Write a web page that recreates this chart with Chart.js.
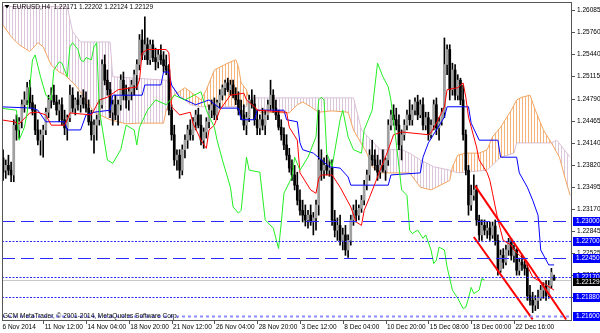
<!DOCTYPE html>
<html>
<head>
<meta charset="utf-8">
<script src="https://cdn.jsdelivr.net/npm/chart.js@4.4.0/dist/chart.umd.min.js"></script>
<style>
  html, body { margin: 0; padding: 0; background: #fff; }
  canvas { display: block; }
</style>
</head>
<body>
<canvas id="chart" width="600" height="333"></canvas>
<script>
// EURUSD H4 candles, bar 0 = 6 Nov 2014 20:00
const opens = [1.2404,1.2392,1.2374,1.2381,1.2374,1.2367,1.2440,1.2433,1.2445,1.2470,
1.2477,1.2495,1.2473,1.2462,1.2433,1.2418,1.2426,1.2433,1.2459,1.2477,
1.2484,1.2474,1.2462,1.2470,1.2448,1.2436,1.2451,1.2484,1.2465,1.2477,
1.2470,1.2480,1.2471,1.2465,1.2445,1.2426,1.2440,1.2448,1.2470,1.2529,
1.2506,1.2492,1.2459,1.2470,1.2455,1.2470,1.2506,1.2484,1.2477,1.2489,
1.2499,1.2514,1.2529,1.2565,1.2543,1.2558,1.2536,1.2558,1.2539,1.2533,
1.2543,1.2536,1.2527,1.2521,1.2462,1.2426,1.2389,1.2396,1.2374,1.2404,
1.2418,1.2433,1.2426,1.2445,1.2455,1.2440,1.2418,1.2430,1.2445,1.2462,
1.2470,1.2455,1.2473,1.2484,1.2495,1.2502,1.2492,1.2499,1.2484,1.2477,
1.2462,1.2455,1.2440,1.2451,1.2477,1.2471,1.2448,1.2436,1.2448,1.2440,
1.2455,1.2470,1.2484,1.2465,1.2455,1.2437,1.2426,1.2411,1.2396,1.2377,
1.2367,1.2352,1.2330,1.2315,1.2308,1.2301,1.2308,1.2298,1.2304,1.2323,
1.2389,1.2374,1.2381,1.2374,1.2377,1.2301,1.2286,1.2293,1.2271,1.2279,
1.2257,1.2271,1.2301,1.2315,1.2308,1.2318,1.2330,1.2352,1.2367,1.2396,
1.2389,1.2381,1.2371,1.2381,1.2374,1.2389,1.2440,1.2455,1.2448,1.2440,
1.2411,1.2426,1.2440,1.2455,1.2448,1.2462,1.2474,1.2455,1.2470,1.2440,
1.2451,1.2426,1.2440,1.2470,1.2436,1.2445,1.2459,1.2529,1.2551,1.2492,
1.2521,1.2484,1.2506,1.2477,1.2426,1.2374,1.2323,1.2337,1.2345,1.2301,
1.2279,1.2293,1.2286,1.2289,1.2279,1.2292,1.2271,1.2227,1.2249,1.2239,
1.2257,1.2268,1.2249,1.2257,1.2227,1.2239,1.2235,1.2230,1.2190,1.2183,
1.2176,1.2183,1.2186,1.2198,1.2204,1.2190,1.2205,1.22171];
const highs = [1.2411,1.2404,1.2389,1.2396,1.2386,1.2448,1.2455,1.2451,1.2477,1.2489,
1.2503,1.2506,1.2484,1.2470,1.2448,1.2433,1.2440,1.2465,1.2484,1.2495,
1.2499,1.2484,1.2477,1.2480,1.2462,1.2455,1.2499,1.2495,1.2480,1.2489,
1.2484,1.2492,1.2489,1.2477,1.2462,1.2448,1.2455,1.2477,1.2536,1.2543,
1.2521,1.2503,1.2477,1.2484,1.2477,1.2514,1.2518,1.2499,1.2495,1.2506,
1.2521,1.2536,1.2573,1.2580,1.2599,1.2568,1.2565,1.2565,1.2553,1.2551,
1.2558,1.2548,1.2543,1.2529,1.2470,1.2440,1.2404,1.2404,1.2411,1.2426,
1.2440,1.2448,1.2451,1.2462,1.2465,1.2455,1.2436,1.2451,1.2470,1.2477,
1.2480,1.2477,1.2492,1.2499,1.2506,1.2509,1.2506,1.2506,1.2495,1.2489,
1.2477,1.2470,1.2459,1.2484,1.2492,1.2484,1.2462,1.2455,1.2465,1.2462,
1.2477,1.2506,1.2492,1.2477,1.2462,1.2448,1.2436,1.2426,1.2406,1.2389,
1.2381,1.2371,1.2345,1.2330,1.2323,1.2315,1.2323,1.2312,1.2330,1.2462,
1.2404,1.2392,1.2396,1.2389,1.2389,1.2315,1.2304,1.2308,1.2289,1.2293,
1.2279,1.2308,1.2323,1.2330,1.2323,1.2337,1.2359,1.2374,1.2404,1.2418,
1.2404,1.2396,1.2389,1.2404,1.2392,1.2448,1.2462,1.2470,1.2465,1.2455,
1.2433,1.2448,1.2462,1.2477,1.2470,1.2480,1.2484,1.2477,1.2480,1.2459,
1.2459,1.2448,1.2477,1.2480,1.2451,1.2465,1.2568,1.2558,1.2558,1.2531,
1.2529,1.2514,1.2509,1.2499,1.2433,1.2381,1.2352,1.2367,1.2352,1.2308,
1.2301,1.2301,1.2298,1.2298,1.2298,1.2301,1.2279,1.2257,1.2259,1.2264,
1.2274,1.2274,1.2264,1.2259,1.2245,1.2249,1.2245,1.2235,1.2205,1.2195,
1.2190,1.2198,1.2205,1.2209,1.2212,1.2212,1.2230,1.22202];
const lows = [1.2381,1.2359,1.2362,1.2367,1.2357,1.2357,1.2418,1.2421,1.2436,1.2459,
1.2470,1.2465,1.2455,1.2426,1.2411,1.2396,1.2393,1.2426,1.2451,1.2465,
1.2470,1.2455,1.2445,1.2440,1.2426,1.2418,1.2445,1.2459,1.2455,1.2462,
1.2459,1.2465,1.2459,1.2440,1.2418,1.2399,1.2418,1.2440,1.2465,1.2499,
1.2484,1.2451,1.2440,1.2448,1.2440,1.2462,1.2477,1.2465,1.2462,1.2477,
1.2484,1.2492,1.2521,1.2536,1.2536,1.2529,1.2529,1.2533,1.2521,1.2524,
1.2529,1.2518,1.2514,1.2455,1.2418,1.2381,1.2374,1.2362,1.2367,1.2392,
1.2406,1.2418,1.2418,1.2433,1.2436,1.2411,1.2406,1.2421,1.2436,1.2451,
1.2448,1.2448,1.2465,1.2477,1.2484,1.2489,1.2484,1.2480,1.2470,1.2455,
1.2448,1.2433,1.2426,1.2445,1.2465,1.2440,1.2426,1.2426,1.2433,1.2426,
1.2448,1.2462,1.2459,1.2448,1.2433,1.2418,1.2404,1.2389,1.2371,1.2359,
1.2345,1.2323,1.2308,1.2298,1.2292,1.2289,1.2293,1.2279,1.2286,1.2308,
1.2359,1.2362,1.2367,1.2365,1.2293,1.2276,1.2271,1.2264,1.2257,1.2249,
1.2246,1.2264,1.2293,1.2298,1.2301,1.2312,1.2323,1.2345,1.2359,1.2381,
1.2374,1.2359,1.2362,1.2371,1.2359,1.2381,1.2433,1.2440,1.2433,1.2404,
1.2389,1.2418,1.2433,1.2440,1.2440,1.2455,1.2448,1.2451,1.2433,1.2433,
1.2418,1.2421,1.2433,1.2426,1.2418,1.2440,1.2451,1.2514,1.2477,1.2484,
1.2477,1.2477,1.2470,1.2418,1.2367,1.2308,1.2315,1.2330,1.2293,1.2271,
1.2271,1.2279,1.2274,1.2271,1.2274,1.2264,1.2220,1.2224,1.2230,1.2235,
1.2249,1.2242,1.2239,1.2220,1.2220,1.2227,1.2220,1.2183,1.2176,1.2165,
1.2168,1.2171,1.2183,1.2186,1.2183,1.2186,1.2201,1.22124];
const closes = [1.2389,1.2371,1.2381,1.2374,1.2367,1.2440,1.2433,1.2445,1.2470,1.2477,
1.2495,1.2473,1.2462,1.2433,1.2418,1.2426,1.2433,1.2459,1.2477,1.2484,
1.2474,1.2462,1.2470,1.2448,1.2436,1.2451,1.2484,1.2465,1.2477,1.2470,
1.2480,1.2471,1.2465,1.2445,1.2426,1.2440,1.2448,1.2470,1.2529,1.2506,
1.2492,1.2459,1.2470,1.2455,1.2470,1.2506,1.2484,1.2477,1.2489,1.2499,
1.2514,1.2529,1.2565,1.2543,1.2558,1.2536,1.2558,1.2539,1.2533,1.2543,
1.2536,1.2527,1.2521,1.2462,1.2426,1.2389,1.2396,1.2374,1.2404,1.2418,
1.2433,1.2426,1.2445,1.2455,1.2440,1.2418,1.2430,1.2445,1.2462,1.2470,
1.2455,1.2473,1.2484,1.2495,1.2502,1.2492,1.2499,1.2484,1.2477,1.2462,
1.2455,1.2440,1.2451,1.2477,1.2471,1.2448,1.2436,1.2448,1.2440,1.2455,
1.2470,1.2484,1.2465,1.2455,1.2437,1.2426,1.2411,1.2396,1.2377,1.2367,
1.2352,1.2330,1.2315,1.2308,1.2301,1.2308,1.2298,1.2304,1.2323,1.2389,
1.2374,1.2381,1.2374,1.2377,1.2301,1.2286,1.2293,1.2271,1.2279,1.2257,
1.2271,1.2301,1.2315,1.2308,1.2318,1.2330,1.2352,1.2367,1.2396,1.2389,
1.2381,1.2371,1.2381,1.2374,1.2389,1.2440,1.2455,1.2448,1.2440,1.2411,
1.2426,1.2440,1.2455,1.2448,1.2462,1.2474,1.2455,1.2470,1.2440,1.2451,
1.2426,1.2440,1.2470,1.2436,1.2445,1.2459,1.2529,1.2551,1.2492,1.2521,
1.2484,1.2506,1.2477,1.2426,1.2374,1.2323,1.2337,1.2345,1.2301,1.2279,
1.2293,1.2286,1.2289,1.2279,1.2292,1.2271,1.2227,1.2249,1.2239,1.2257,
1.2268,1.2249,1.2257,1.2227,1.2239,1.2235,1.2230,1.2190,1.2183,1.2176,
1.2183,1.2186,1.2198,1.2204,1.2190,1.2205,1.2224,1.22129];

// Ichimoku lines, [bar, price] vertices
const tenkan = [[0,1.2448],[5,1.2445],[7,1.2442],[11,1.2458],[14,1.2459],[17,1.2455],[19,1.2440],[24,1.2440],[25,1.2448],[26,1.2458],
[34,1.2455],[35,1.2462],[37,1.2477],[40,1.2481],[44,1.2492],[51,1.2496],[52,1.2506],[53,1.2546],[55,1.2551],[62,1.2551],
[63,1.2546],[64,1.2467],[67,1.2455],[71,1.2459],[72,1.2443],[75,1.2418],[77,1.2406],[78,1.2433],[80,1.2440],[82,1.2462],
[86,1.2484],[91,1.2487],[92,1.2477],[95,1.2467],[96,1.2462],[107,1.2459],[108,1.2437],[111,1.2418],[112,1.2370],[116,1.2345],
[118,1.2340],[119,1.2362],[120,1.2367],[124,1.2367],[127,1.2349],[131,1.2320],[133,1.2298],[135,1.2293],[136,1.2315],[138,1.2334],
[141,1.2364],[145,1.2404],[147,1.2426],[150,1.2430],[160,1.2426],[161,1.2429],[163,1.2443],[166,1.2467],[167,1.2492],[171,1.2495],
[173,1.2502],[174,1.2481],[175,1.2452],[178,1.2408],[179,1.2389],[182,1.2370],[183,1.2359],[184,1.2340],[186,1.2301],[188,1.2271],
[191,1.2264],[192,1.2257],[196,1.2242],[199,1.2217],[203,1.2208],[207,1.2198]];
const kijun = [[0,1.2467],[12,1.2465],[14,1.2462],[17,1.2445],[24,1.2445],[25,1.2433],[30,1.2433],[32,1.2455],[35,1.2459],[41,1.2462],
[42,1.2484],[53,1.2484],[54,1.2499],[60,1.2499],[61,1.2518],[63,1.2518],[64,1.2499],[67,1.2481],[73,1.2470],[78,1.2477],
[82,1.2465],[89,1.2465],[90,1.2448],[95,1.2448],[96,1.2462],[106,1.2462],[107,1.2448],[111,1.2445],[112,1.2414],[113,1.2404],
[117,1.2399],[123,1.2379],[127,1.2377],[130,1.2364],[131,1.2352],[145,1.2352],[146,1.2367],[157,1.2370],[158,1.2393],[160,1.2414],
[166,1.2452],[167,1.2467],[175,1.2467],[176,1.2443],[179,1.2418],[186,1.2418],[187,1.2393],[193,1.2393],[194,1.2370],[197,1.2349],
[199,1.2330],[201,1.2308],[202,1.2257],[205,1.2235],[207,1.2235]];
const chikou = [[0,1.2465],[6,1.2462],[7,1.2418],[9,1.2437],[10,1.2458],[12,1.2536],[13,1.2543],[15,1.2511],[17,1.2484],[19,1.2477],
[20,1.2521],[22,1.2533],[23,1.2531],[25,1.2511],[26,1.2555],[27,1.2561],[29,1.2551],[30,1.2536],[31,1.2533],[32,1.2539],
[34,1.2536],[35,1.2555],[36,1.2561],[37,1.2462],[40,1.2389],[42,1.2384],[45,1.2404],[47,1.2440],[50,1.2433],[51,1.2411],
[52,1.2437],[55,1.2462],[58,1.2477],[62,1.2470],[65,1.2484],[69,1.2477],[75,1.2489],[77,1.2462],[80,1.2437],[81,1.2418],
[83,1.2389],[86,1.2349],[87,1.2320],[89,1.2311],[90,1.2315],[92,1.2393],[93,1.2374],[97,1.2371],[99,1.2301],[102,1.2289],
[104,1.2259],[105,1.2296],[106,1.2340],[109,1.2364],[110,1.2393],[112,1.2374],[115,1.2393],[118,1.2423],[119,1.2477],[120,1.2481],
[121,1.2477],[122,1.2399],[124,1.2379],[127,1.2448],[128,1.2462],[130,1.2423],[132,1.2404],[135,1.2399],[136,1.2433],[139,1.2462],
[141,1.2531],[143,1.2511],[145,1.2496],[146,1.2477],[148,1.2414],[150,1.2345],[152,1.2337],[153,1.2286],[154,1.2281],[156,1.2286],
[158,1.2274],[159,1.2279],[161,1.2257],[162,1.2237],[163,1.2242],[164,1.2261],[166,1.2257],[167,1.2232],[169,1.2198],[171,1.2186],
[173,1.2171],[174,1.2173],[175,1.2186],[176,1.2202],[177,1.2193],[179,1.2198],[180,1.2215],[181,1.2213]];
const spanA = [[0,1.2592],[4,1.2570],[7,1.2558],[11,1.2548],[14,1.2561],[16,1.2555],[19,1.2528],[22,1.2518],[24,1.2514],[28,1.2499],
[32,1.2477],[35,1.2459],[41,1.2448],[47,1.2442],[52,1.2443],[61,1.2443],[62,1.2462],[65,1.2484],[69,1.2495],[75,1.2477],
[77,1.2492],[80,1.2521],[85,1.2531],[88,1.2536],[89,1.2526],[90,1.2502],[92,1.2492],[93,1.2477],[97,1.2459],[108,1.2458],
[111,1.2470],[113,1.2474],[116,1.2467],[119,1.2459],[124,1.2461],[130,1.2459],[132,1.2433],[137,1.2399],[139,1.2379],[142,1.2370],
[153,1.2370],[157,1.2349],[161,1.2345],[163,1.2349],[168,1.2359],[169,1.2379],[171,1.2396],[174,1.2399],[179,1.2399],[182,1.2404],
[184,1.2423],[187,1.2437],[191,1.2462],[193,1.2477],[195,1.2481],[198,1.2484],[200,1.2462],[203,1.2433],[206,1.2414],[209,1.2393],
[211,1.2364],[213,1.2337]];
const spanB = [[0,1.2614],[25,1.2614],[27,1.2577],[30,1.2562],[41,1.2562],[42,1.2511],[62,1.2506],[67,1.2484],[71,1.2470],[75,1.2467],
[92,1.2467],[93,1.2480],[132,1.2480],[135,1.2433],[142,1.2404],[150,1.2404],[153,1.2399],[157,1.2389],[162,1.2379],[168,1.2374],
[171,1.2370],[182,1.2374],[187,1.2393],[192,1.2399],[193,1.2414],[206,1.2414],[208,1.2418],[210,1.2408],[213,1.2393]];

// trend channel drawn on the chart
const channelUpper = [[177.5,1.2351],[211.5,1.2155]];
const channelLower = [[177,1.2276],[199,1.2155]];

// horizontal levels and price scale
const levels = [1.23000, 1.22700, 1.22450, 1.22170, 1.21880, 1.21600];
const levelKinds = ['dash', 'dot', 'dash', 'dot', 'dot', 'wide'];
const yTicks = [1.26085,1.25760,1.25440,1.25115,1.24790,1.24465,1.24140,1.23820,1.23495,1.23170,1.22845,1.22525,1.22200,1.21875];
const xTickBars = [0,16,32,48,64,80,96,112,128,144,160,176,192];
const xTickLabels = ['6 Nov 2014','11 Nov 12:00','14 Nov 04:00','18 Nov 20:00','21 Nov 12:00','26 Nov 04:00','28 Nov 20:00',
  '3 Dec 12:00','8 Dec 04:00','10 Dec 20:00','15 Dec 08:00','18 Dec 00:00','22 Dec 16:00'];

const last = closes.length - 1;
const FONT = '6.5px "Liberation Sans", Arial, sans-serif';

const canvas = document.getElementById('chart');
function stripes(color) {
  const c = document.createElement('canvas');
  c.width = 3; c.height = 1;
  const g = c.getContext('2d');
  g.fillStyle = color;
  g.fillRect(0, 0, 1, 1);
  return canvas.getContext('2d').createPattern(c, 'repeat');
}

const pts = arr => arr.map(([x, y]) => ({ x, y }));

const decor = {
  id: 'decor',
  beforeDatasetsDraw(chart) {
    const { ctx, chartArea: a, scales: { y } } = chart;
    ctx.save();
    ctx.strokeStyle = '#c8c8c8';
    ctx.lineWidth = 1;
    const by = Math.round(y.getPixelForValue(closes[last])) + 0.5;
    ctx.beginPath(); ctx.moveTo(a.left, by); ctx.lineTo(a.right, by); ctx.stroke();
    ctx.restore();
  },
  afterDatasetsDraw(chart) {
    const { ctx, chartArea: a, scales: { y } } = chart;
    ctx.save();
    levels.forEach((v, i) => {
      const kind = levelKinds[i];
      const py = Math.round(y.getPixelForValue(v)) + 0.5;
      ctx.beginPath();
      if (kind === 'dash') { ctx.setLineDash([13, 6]); ctx.strokeStyle = '#2a2aff'; ctx.lineWidth = 1; }
      else if (kind === 'dot') { ctx.setLineDash([2, 1.5]); ctx.strokeStyle = '#2a2aff'; ctx.lineWidth = 1; }
      else { ctx.setLineDash([3, 3]); ctx.strokeStyle = '#8c8cff'; ctx.lineWidth = 2; }
      ctx.moveTo(a.left, py); ctx.lineTo(a.right, py); ctx.stroke();
    });
    ctx.restore();
  },
  afterDraw(chart) {
    const { ctx, chartArea: a, scales: { x, y } } = chart;
    ctx.save();
    ctx.strokeStyle = '#555';
    ctx.lineWidth = 1;
    ctx.setLineDash([]);
    ctx.strokeRect(a.left + 0.5, a.top + 0.5, a.right - a.left - 1, a.bottom - a.top);

    ctx.font = FONT;
    ctx.textBaseline = 'middle';
    ctx.textAlign = 'left';
    // price scale
    yTicks.forEach(v => {
      const py = Math.round(y.getPixelForValue(v)) + 0.5;
      ctx.beginPath(); ctx.moveTo(a.right, py); ctx.lineTo(a.right + 3, py); ctx.stroke();
      ctx.fillStyle = '#000';
      ctx.fillText(v.toFixed(5), a.right + 5, py);
    });
    levels.forEach(v => {
      const py = Math.round(y.getPixelForValue(v));
      ctx.fillStyle = '#0000ff';
      ctx.fillRect(a.right + 1, py - 4, 27, 9);
      ctx.fillStyle = '#fff';
      ctx.fillText(v.toFixed(5), a.right + 4, py + 0.5);
    });
    const bp = Math.round(y.getPixelForValue(closes[last]));
    ctx.fillStyle = '#000';
    ctx.fillRect(a.right + 1, bp - 2, 27, 8);
    ctx.fillStyle = '#fff';
    ctx.fillText(closes[last].toFixed(5), a.right + 4, bp + 2);

    // time scale
    ctx.fillStyle = '#000';
    xTickBars.forEach((b, i) => {
      const px = x.getPixelForValue(b);
      if (px > a.left + 1) {
        const tx = Math.round(px) + 0.5;
        ctx.beginPath(); ctx.moveTo(tx, a.bottom); ctx.lineTo(tx, a.bottom + 4); ctx.stroke();
      }
      ctx.fillText(xTickLabels[i], Math.max(px, a.left - 1) + 1.5, a.bottom + 7.5);
    });

    // title
    ctx.beginPath();
    ctx.moveTo(4.5, 5); ctx.lineTo(9.5, 5); ctx.lineTo(7, 8.5); ctx.closePath();
    ctx.fill();
    const ohlc = [opens[last], highs[last], lows[last], closes[last]].map(v => v.toFixed(5)).join(' ');
    ctx.fillText('EURUSD,H4  ' + ohlc, 12.5, 7.5);
    ctx.fillText('GCM MetaTrader, \u00a9 2001-2014, MetaQuotes Software Corp.', 3, 316.5);
    ctx.restore();
  }
};

const orangeHatch = stripes('#f6b47c');
const lilacHatch = stripes('#dcc6dc');

new Chart(canvas, {
  type: 'bar',
  data: {
    datasets: [
      { type: 'line', data: pts(channelUpper), borderColor: '#ff0000', borderWidth: 2, pointRadius: 0, order: 0 },
      { type: 'line', data: pts(channelLower), borderColor: '#ff0000', borderWidth: 2, pointRadius: 0, order: 0 },
      { type: 'line', data: pts(chikou), borderColor: '#22ee22', borderWidth: 1, pointRadius: 0, order: 1 },
      { type: 'line', data: pts(tenkan), borderColor: '#ff0000', borderWidth: 1, pointRadius: 0, order: 2 },
      { type: 'line', data: pts(kijun), borderColor: '#0000ff', borderWidth: 1, pointRadius: 0, order: 3 },
      {
        type: 'bar', order: 5, barThickness: 2, minBarLength: 1, grouped: false,
        data: opens.map((o, i) => ({ x: i, y: [Math.min(o, closes[i]), Math.max(o, closes[i])] })),
        backgroundColor: opens.map((o, i) => closes[i] >= o ? '#a0a0a0' : '#000000')
      },
      {
        type: 'bar', order: 6, barThickness: 1, grouped: false,
        data: highs.map((h, i) => ({ x: i, y: [lows[i], h] })),
        backgroundColor: '#000000'
      },
      {
        type: 'line', data: pts(spanA), borderColor: '#f4a460', borderWidth: 1, pointRadius: 0, order: 8,
        fill: { target: 8, above: orangeHatch, below: lilacHatch }
      },
      { type: 'line', data: pts(spanB), borderColor: '#d8bfd8', borderWidth: 1, pointRadius: 0, order: 9 }
    ]
  },
  options: {
    responsive: false,
    animation: false,
    devicePixelRatio: 1,
    events: [],
    layout: { padding: { left: 2, top: 2, right: 28, bottom: 13 } },
    plugins: { legend: { display: false }, tooltip: { enabled: false } },
    scales: {
      x: { type: 'linear', display: false, min: 0.6, max: 213.7, offset: false },
      y: { type: 'linear', display: false, min: 1.21542, max: 1.26207 }
    }
  },
  plugins: [decor]
});
</script>
</body>
</html>
